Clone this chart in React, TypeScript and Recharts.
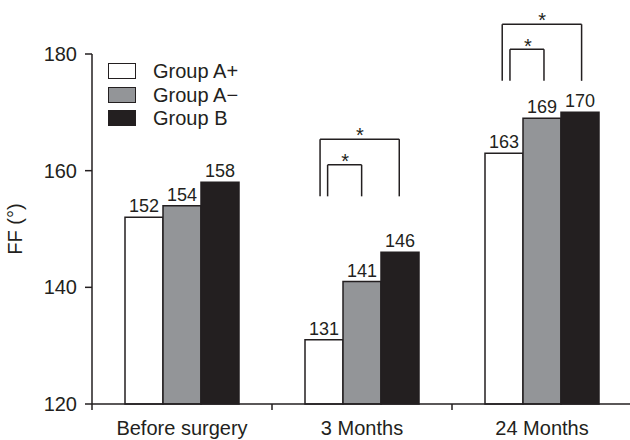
import React from 'react'
import {
  BarChart,
  Bar,
  XAxis,
  YAxis,
  Legend,
  LabelList,
  ReferenceLine,
  ReferenceDot,
} from 'recharts'

// values
const categories = ['Before surgery', '3 Months', '24 Months']
const groupAPlus = [152, 131, 163]
const groupAMinus = [154, 141, 169]
const groupB = [158, 146, 170]
const yTicks = [120, 140, 160, 180]
const boundaryTicks = [0, 1, 2, 3]

// significance brackets (x on a 0..3 category scale, y in FF units)
const brackets = [
  { x1: 1.267, x2: 1.707, top: 165.4, bottom: 155.6 },
  { x1: 1.309, x2: 1.498, top: 161.0, bottom: 155.6 },
  { x1: 2.279, x2: 2.72, top: 185.1, bottom: 175.4 },
  { x1: 2.322, x2: 2.511, top: 180.8, bottom: 175.4 },
]
const stars = [
  { x: 1.489, y: 166.1 },
  { x: 1.406, y: 161.6 },
  { x: 2.501, y: 185.8 },
  { x: 2.422, y: 181.4 },
]

const INK = '#231f20'
const GRAY = '#939598'
const FONT = '"Liberation Sans", Arial, Helvetica, sans-serif'

const data = categories.map((name, i) => ({
  name,
  slot: i + 0.5,
  aPlus: groupAPlus[i],
  aMinus: groupAMinus[i],
  b: groupB[i],
}))

const series = [
  { key: 'aPlus', name: 'Group A+', fill: '#ffffff' },
  { key: 'aMinus', name: 'Group A\u2212', fill: GRAY },
  { key: 'b', name: 'Group B', fill: INK },
]

function LegendBox() {
  return (
    <div style={{ fontFamily: FONT, fontSize: 20, color: INK }}>
      {series.map(s => (
        <div key={s.key} style={{ display: 'flex', alignItems: 'center', height: 23.7 }}>
          <span
            style={{
              display: 'inline-block',
              width: 26,
              height: 14,
              background: s.fill,
              border: `1.5px solid ${INK}`,
              marginRight: 17,
            }}
          />
          <span style={{ lineHeight: '20px' }}>{s.name}</span>
        </div>
      ))}
    </div>
  )
}

export default function App() {
  return (
    <div
      style={{
        position: 'absolute',
        top: 0,
        left: 0,
        width: 630,
        height: 440,
        overflow: 'hidden',
        background: '#fff',
      }}
    >
      <BarChart
        width={640}
        height={440}
        data={data}
        margin={{ top: 54, right: 8, bottom: 5, left: 0 }}
        barCategoryGap={33}
        barGap={0}
        style={{ fontFamily: FONT }}
      >
        <XAxis
          xAxisId="base"
          dataKey="slot"
          type="number"
          domain={[0, 3]}
          ticks={boundaryTicks}
          height={1}
          tickSize={6}
          tickFormatter={() => ''}
          axisLine={{ stroke: INK, strokeWidth: 1.5 }}
          tickLine={{ stroke: INK, strokeWidth: 1.5 }}
          allowDataOverflow
        />
        <XAxis
          xAxisId="labels"
          dataKey="name"
          axisLine={false}
          tickLine={false}
          tickMargin={10}
          tick={{ fill: INK, fontSize: 20 }}
          interval={0}
        />
        <YAxis
          domain={[120, 180]}
          ticks={yTicks}
          width={92}
          tickSize={7}
          tickMargin={8}
          axisLine={{ stroke: INK, strokeWidth: 1.5 }}
          tickLine={{ stroke: INK, strokeWidth: 1.5 }}
          tick={{ fill: INK, fontSize: 20 }}
          label={{
            value: 'FF (\u00b0)',
            angle: -90,
            position: 'insideLeft',
            offset: 15,
            style: { textAnchor: 'middle', fill: INK, fontSize: 20 },
          }}
        />
        <Legend
          layout="vertical"
          align="center"
          verticalAlign="middle"
          wrapperStyle={{ top: 59, left: 108, width: 'auto' }}
          content={() => <LegendBox />}
        />
        {series.map(s => (
          <Bar
            key={s.key}
            xAxisId="labels"
            dataKey={s.key}
            name={s.name}
            fill={s.fill}
            stroke={INK}
            strokeWidth={1.5}
            isAnimationActive={false}
          >
            <LabelList dataKey={s.key} position="top" offset={5} fill={INK} fontSize={18} />
          </Bar>
        ))}
        {brackets.flatMap((b, i) => [
          <ReferenceLine
            key={`bl-${i}`}
            xAxisId="base"
            ifOverflow="visible"
            stroke={INK}
            strokeWidth={1.5}
            segment={[{ x: b.x1, y: b.bottom }, { x: b.x1, y: b.top }]}
          />,
          <ReferenceLine
            key={`bt-${i}`}
            xAxisId="base"
            ifOverflow="visible"
            stroke={INK}
            strokeWidth={1.5}
            segment={[{ x: b.x1, y: b.top }, { x: b.x2, y: b.top }]}
          />,
          <ReferenceLine
            key={`br-${i}`}
            xAxisId="base"
            ifOverflow="visible"
            stroke={INK}
            strokeWidth={1.5}
            segment={[{ x: b.x2, y: b.top }, { x: b.x2, y: b.bottom }]}
          />,
        ])}
        {stars.map((s, i) => (
          <ReferenceDot
            key={`star-${i}`}
            xAxisId="base"
            x={s.x}
            y={s.y}
            r={0}
            ifOverflow="visible"
            stroke="none"
            label={{ value: '*', position: 'center', fill: INK, fontSize: 20 }}
          />
        ))}
      </BarChart>
    </div>
  )
}
